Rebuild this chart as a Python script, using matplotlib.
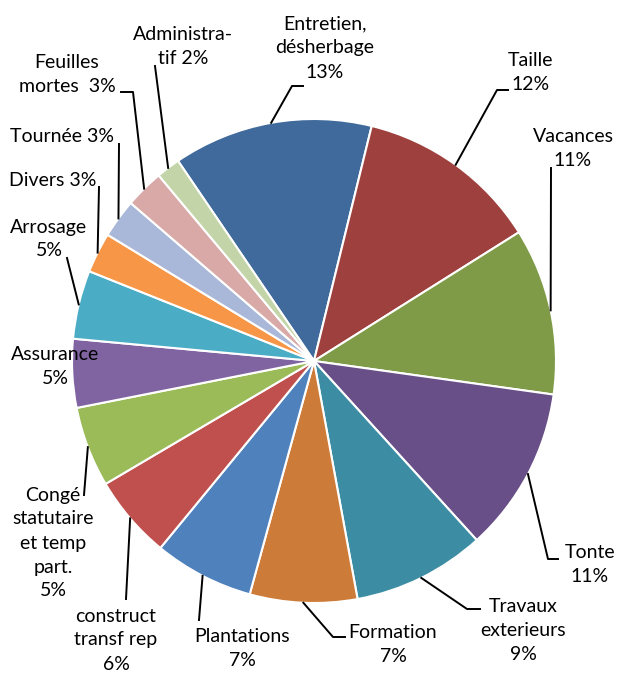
import math

import matplotlib
matplotlib.use("Agg")
import matplotlib.pyplot as plt

W, H = 619, 675

# données (parts en %)
categories = [
    "Entretien,\ndésherbage", "Taille", "Vacances", "Tonte",
    "Travaux\nexterieurs", "Formation", "Plantations",
    "construct\ntransf rep", "Congé\nstatutaire\net temp\npart.",
    "Assurance", "Arrosage", "Divers", "Tournée", "Feuilles\nmortes ",
    "Administra-\ntif",
]
values = [13.4, 12.3, 11.2, 11.1, 8.9, 7.2, 6.7, 5.6, 5.4, 4.6, 4.6, 2.7, 2.6, 2.6, 1.6]
colors = [
    "#3F6A9B", "#9E413E", "#7F9B48", "#684F87", "#3C8DA3", "#CC7B38",
    "#4F81BD", "#C0504D", "#9BBB59", "#8064A2", "#4BACC6", "#F79646",
    "#A9B8D8", "#D9A9A8", "#C3D5A8",
]

# mise en page (pixels, origine en haut à gauche)
seps = ["\n", "\n", "\n", "\n", "\n", "\n", "\n", "\n", "\n", "\n", "\n", " ", " ", " ", " "]
text_pos = [
    (325, 48), (531, 72), (573, 148), (590, 565), (523, 631), (393, 645),
    (242, 648), (116, 640), (53, 543), (55, 366), (49, 239), (53, 180),
    (62, 137), (67, 74), (183, 46),
]
leaders = [
    [(292, 86), (303, 86)], [(497, 90), (508, 90)], [(551, 168)],
    [(548, 559), (558, 559)], [(467, 609), (480, 609)], [(333, 637), (345, 637)],
    [(199, 620)], [(126, 599)], [(84, 495)], None, [(67, 258)], [(99, 187)],
    [(119, 144)], [(133, 92), (121, 92)], [(155, 66)],
]


def px(x, y):
    return x, H - y


fig = plt.figure(figsize=(W / 100, H / 100), dpi=100)
ax = fig.add_axes([0, 0, 1, 1])

cx, cy = px(314, 361)
r = 242
wedges, _ = ax.pie(
    values, colors=colors, startangle=124.2, counterclock=False,
    center=(cx, cy), radius=r,
    wedgeprops=dict(edgecolor="white", linewidth=1.5),
)
ax.set_xlim(0, W)
ax.set_ylim(0, H)
ax.set_aspect("equal")
ax.axis("off")

for w, name, v, sep, (tx, ty), pts in zip(wedges, categories, values, seps, text_pos, leaders):
    ax.text(*px(tx, ty), f"{name}{sep}{v:.0f}%", ha="center", va="center",
            fontsize=14, family=["Lato", "DejaVu Sans"], linespacing=1.5,
            color="black", zorder=5)
    if pts:
        mid = math.radians((w.theta1 + w.theta2) / 2)
        xs = [cx + r * math.cos(mid)] + [px(*p)[0] for p in pts]
        ys = [cy + r * math.sin(mid)] + [px(*p)[1] for p in pts]
        ax.plot(xs, ys, color="black", linewidth=1.4, zorder=4)

fig.savefig("out.png", dpi=100)
